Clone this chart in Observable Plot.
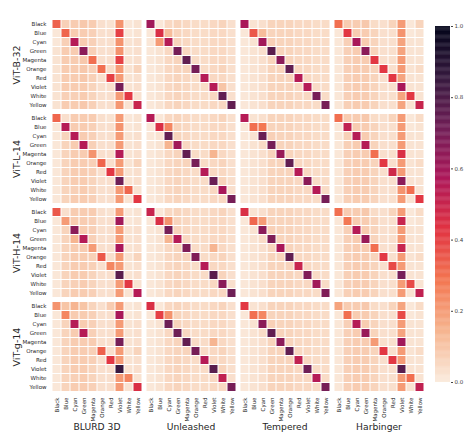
<!DOCTYPE html>
<html><head><meta charset="utf-8">
<script src="https://cdn.jsdelivr.net/npm/d3@7"></script>
<script src="https://cdn.jsdelivr.net/npm/@observablehq/plot@0.6"></script>
<style>
body{margin:0;background:#fff;font-family:"DejaVu Sans",sans-serif;}
#wrap{position:relative;width:465px;height:445px;overflow:hidden;}
#title{position:absolute;left:0;width:482px;top:3px;text-align:center;font-weight:bold;font-size:13.5px;color:#262626;white-space:pre;}
#main{position:absolute;left:0;top:0;}
#cbar{position:absolute;left:435px;top:0;}
</style></head><body>
<div id="wrap"><div id="title">Dataset: Laion 2B,  Class: Shirt color</div><div id="main"></div><div id="cbar"></div></div>
<script>
const colors = ["Black","Blue","Cyan","Green","Magenta","Orange","Red","Violet","White","Yellow"];
const models = ["ViT-B-32","ViT-L-14","ViT-H-14","ViT-g-14"];
const datasets = ["BLURD 3D","Unleashed","Tempered","Harbinger"];
const cbarTicks = [0,0.2,0.4,0.6,0.8,1.0];

const b32_blurd = [
[.33,.07,.08,.09,.08,.03,.02,.22,.01,.02],
[.01,.32,.08,.08,.07,.03,.03,.40,.01,.02],
[.01,.07,.55,.08,.07,.03,.03,.22,.02,.03],
[.02,.08,.08,.65,.07,.03,.03,.22,.02,.03],
[.02,.08,.08,.09,.30,.03,.03,.40,.02,.03],
[.02,.08,.08,.09,.07,.30,.04,.20,.02,.06],
[.02,.08,.08,.09,.07,.03,.40,.20,.02,.03],
[.02,.08,.08,.08,.06,.03,.03,.70,.02,.03],
[.02,.07,.07,.08,.06,.03,.03,.20,.42,.02],
[.02,.08,.08,.09,.07,.03,.03,.21,.02,.50]];
const b32_unleashed = [
[.60,.01,.05,.06,.05,.04,.04,.05,.06,.03],
[.01,.45,.12,.06,.05,.04,.04,.05,.05,.03],
[.01,.20,.55,.06,.05,.04,.04,.05,.05,.03],
[.01,.02,.05,.70,.05,.04,.04,.05,.05,.03],
[.01,.02,.05,.06,.75,.04,.04,.05,.05,.03],
[.01,.02,.05,.06,.06,.70,.04,.05,.06,.03],
[.01,.02,.05,.06,.05,.04,.55,.05,.05,.03],
[.01,.02,.05,.06,.05,.04,.04,.55,.10,.03],
[.01,.02,.05,.06,.05,.04,.04,.05,.75,.03],
[.01,.02,.05,.06,.05,.04,.04,.05,.05,.75]];
const b32_tempered = [
[.58,.02,.03,.06,.06,.06,.05,.05,.04,.04],
[.01,.35,.12,.06,.06,.06,.05,.05,.04,.04],
[.01,.02,.60,.07,.06,.06,.05,.05,.04,.04],
[.01,.02,.03,.77,.06,.06,.05,.05,.04,.04],
[.01,.02,.03,.06,.65,.06,.05,.05,.04,.04],
[.01,.02,.03,.06,.06,.75,.05,.05,.04,.04],
[.01,.02,.03,.06,.06,.06,.55,.05,.04,.04],
[.01,.02,.03,.06,.06,.06,.05,.55,.04,.04],
[.01,.02,.03,.06,.06,.06,.05,.05,.70,.04],
[.01,.02,.03,.06,.06,.06,.05,.05,.04,.70]];
const b32_harbinger = [
[.30,.08,.08,.09,.04,.03,.06,.20,.01,.06],
[.01,.42,.08,.08,.06,.03,.03,.22,.01,.02],
[.01,.07,.58,.08,.06,.03,.03,.18,.02,.02],
[.01,.07,.08,.65,.06,.03,.03,.18,.02,.02],
[.01,.07,.08,.08,.42,.03,.03,.20,.02,.02],
[.01,.07,.08,.08,.06,.42,.03,.20,.02,.04],
[.01,.07,.08,.08,.06,.03,.42,.18,.02,.02],
[.01,.07,.08,.08,.06,.03,.03,.58,.02,.02],
[.01,.07,.08,.08,.06,.03,.03,.18,.42,.02],
[.01,.07,.08,.08,.06,.03,.03,.18,.02,.50]];

const l14_blurd = [
[.32,.03,.08,.08,.08,.03,.02,.20,.01,.02],
[.01,.55,.08,.08,.07,.03,.03,.22,.01,.02],
[.01,.06,.55,.08,.07,.03,.03,.20,.02,.03],
[.01,.06,.08,.55,.07,.03,.03,.20,.02,.03],
[.01,.06,.08,.08,.22,.03,.03,.55,.02,.03],
[.01,.06,.08,.08,.07,.32,.03,.20,.02,.06],
[.01,.06,.08,.08,.07,.03,.42,.20,.02,.03],
[.01,.06,.08,.08,.06,.03,.03,.72,.02,.03],
[.01,.06,.07,.08,.06,.03,.03,.20,.32,.02],
[.01,.06,.08,.08,.07,.03,.03,.20,.02,.42]];
const l14_unleashed = [
[.55,.01,.05,.06,.05,.04,.04,.05,.06,.03],
[.01,.45,.25,.06,.05,.04,.04,.05,.05,.03],
[.01,.02,.75,.06,.05,.04,.04,.05,.05,.03],
[.01,.02,.14,.60,.05,.04,.04,.05,.05,.03],
[.01,.02,.05,.06,.75,.04,.04,.14,.05,.03],
[.01,.02,.05,.06,.06,.70,.04,.05,.06,.03],
[.01,.02,.05,.06,.05,.04,.55,.05,.05,.03],
[.01,.02,.05,.06,.05,.04,.04,.73,.06,.03],
[.01,.02,.05,.06,.05,.04,.04,.05,.58,.03],
[.01,.02,.05,.06,.05,.04,.04,.05,.05,.70]];
const l14_tempered = [
[.55,.02,.03,.06,.06,.06,.05,.05,.04,.04],
[.01,.30,.28,.06,.06,.06,.05,.05,.04,.04],
[.01,.02,.73,.07,.06,.06,.05,.05,.04,.04],
[.01,.02,.04,.70,.06,.06,.05,.05,.04,.04],
[.01,.02,.03,.06,.62,.06,.05,.05,.04,.04],
[.01,.02,.03,.06,.06,.75,.05,.05,.04,.04],
[.01,.02,.03,.06,.06,.06,.55,.05,.04,.04],
[.01,.02,.03,.06,.06,.06,.05,.65,.04,.04],
[.01,.02,.03,.06,.06,.06,.05,.05,.55,.04],
[.01,.02,.03,.06,.06,.06,.05,.05,.04,.70]];
const l14_harbinger = [
[.30,.08,.08,.09,.04,.03,.06,.20,.01,.04],
[.01,.52,.08,.08,.06,.03,.03,.20,.01,.02],
[.01,.07,.55,.08,.06,.03,.03,.20,.02,.02],
[.01,.07,.08,.55,.06,.03,.03,.20,.02,.02],
[.01,.07,.08,.08,.30,.03,.03,.45,.02,.02],
[.01,.07,.08,.08,.06,.42,.03,.20,.02,.04],
[.01,.07,.08,.08,.06,.03,.48,.20,.02,.02],
[.01,.07,.08,.08,.06,.03,.03,.65,.02,.02],
[.01,.07,.08,.08,.06,.03,.03,.22,.30,.02],
[.01,.07,.08,.08,.06,.03,.03,.20,.02,.42]];

const h14_blurd = [
[.35,.03,.08,.08,.08,.03,.02,.20,.01,.02],
[.01,.20,.08,.08,.07,.03,.03,.60,.01,.02],
[.01,.06,.65,.08,.07,.03,.03,.20,.02,.03],
[.01,.06,.14,.55,.07,.03,.03,.20,.02,.03],
[.01,.06,.08,.08,.20,.03,.03,.58,.02,.03],
[.01,.06,.08,.08,.07,.35,.03,.20,.02,.06],
[.01,.06,.08,.08,.07,.03,.25,.20,.02,.03],
[.01,.06,.08,.08,.06,.03,.03,.77,.02,.03],
[.01,.06,.07,.08,.06,.03,.03,.20,.42,.02],
[.01,.06,.08,.08,.07,.03,.03,.20,.02,.55]];
const h14_unleashed = [
[.50,.01,.05,.06,.05,.04,.04,.05,.06,.03],
[.01,.45,.22,.06,.05,.04,.04,.05,.05,.03],
[.01,.02,.70,.06,.05,.04,.04,.05,.05,.03],
[.01,.02,.14,.55,.05,.04,.04,.05,.05,.03],
[.01,.02,.05,.06,.68,.04,.04,.14,.05,.03],
[.01,.02,.05,.06,.06,.68,.04,.05,.06,.03],
[.01,.02,.05,.06,.05,.04,.55,.05,.05,.03],
[.01,.02,.05,.06,.05,.04,.04,.77,.06,.03],
[.01,.02,.05,.06,.05,.04,.04,.05,.65,.03],
[.01,.02,.05,.06,.05,.04,.04,.05,.05,.72]];
const h14_tempered = [
[.45,.02,.03,.06,.06,.06,.05,.05,.04,.04],
[.01,.32,.20,.06,.06,.06,.05,.05,.04,.04],
[.01,.02,.65,.07,.06,.06,.05,.05,.04,.04],
[.01,.02,.04,.68,.06,.06,.05,.05,.04,.04],
[.01,.02,.03,.06,.58,.06,.05,.05,.04,.04],
[.01,.02,.03,.06,.06,.75,.05,.05,.04,.04],
[.01,.02,.03,.06,.06,.06,.50,.05,.04,.04],
[.01,.02,.03,.06,.06,.06,.05,.68,.04,.04],
[.01,.02,.03,.06,.06,.06,.05,.05,.60,.04],
[.01,.02,.03,.06,.06,.06,.05,.05,.04,.68]];
const h14_harbinger = [
[.30,.08,.08,.09,.04,.03,.06,.20,.01,.04],
[.01,.28,.08,.08,.06,.03,.03,.50,.01,.02],
[.01,.07,.55,.08,.06,.03,.03,.20,.02,.02],
[.01,.07,.08,.62,.06,.03,.03,.20,.02,.02],
[.01,.07,.08,.08,.30,.03,.03,.50,.02,.02],
[.01,.07,.08,.08,.06,.42,.03,.20,.02,.04],
[.01,.07,.08,.08,.06,.03,.38,.20,.02,.02],
[.01,.07,.08,.08,.06,.03,.03,.70,.02,.02],
[.01,.07,.08,.08,.06,.03,.03,.20,.38,.02],
[.01,.07,.08,.08,.06,.03,.03,.20,.02,.52]];

const g14_blurd = [
[.22,.10,.14,.10,.06,.03,.08,.20,.01,.02],
[.01,.25,.08,.08,.07,.03,.03,.58,.01,.02],
[.01,.06,.55,.08,.07,.03,.03,.20,.02,.03],
[.01,.06,.08,.55,.07,.03,.03,.20,.02,.03],
[.01,.06,.08,.08,.08,.03,.03,.70,.02,.03],
[.01,.06,.08,.08,.07,.33,.03,.20,.02,.06],
[.01,.06,.08,.08,.07,.03,.42,.20,.02,.03],
[.01,.06,.08,.08,.06,.03,.03,.85,.02,.03],
[.01,.06,.07,.08,.06,.03,.03,.20,.25,.02],
[.01,.06,.08,.08,.07,.03,.03,.20,.02,.45]];
const g14_unleashed = [
[.45,.01,.05,.06,.05,.04,.04,.05,.06,.03],
[.01,.40,.22,.06,.05,.04,.04,.05,.05,.03],
[.01,.02,.72,.06,.05,.04,.04,.05,.05,.03],
[.01,.02,.05,.72,.05,.04,.04,.05,.05,.03],
[.01,.02,.05,.06,.75,.04,.04,.14,.05,.03],
[.01,.02,.05,.06,.06,.70,.04,.05,.06,.03],
[.01,.02,.05,.06,.05,.04,.55,.05,.05,.03],
[.01,.02,.05,.06,.05,.04,.04,.77,.06,.03],
[.01,.02,.05,.06,.05,.04,.04,.05,.52,.03],
[.01,.02,.05,.06,.05,.04,.04,.05,.05,.70]];
const g14_tempered = [
[.42,.02,.03,.06,.06,.06,.05,.05,.04,.04],
[.01,.30,.25,.06,.06,.06,.05,.05,.04,.04],
[.01,.02,.65,.07,.06,.06,.05,.05,.04,.04],
[.01,.02,.04,.75,.06,.06,.05,.05,.04,.04],
[.01,.02,.03,.06,.65,.06,.05,.05,.04,.04],
[.01,.02,.03,.06,.06,.75,.05,.05,.04,.04],
[.01,.02,.03,.06,.06,.06,.52,.05,.04,.04],
[.01,.02,.03,.06,.06,.06,.05,.72,.04,.04],
[.01,.02,.03,.06,.06,.06,.05,.05,.55,.04],
[.01,.02,.03,.06,.06,.06,.05,.05,.04,.70]];
const g14_harbinger = [
[.18,.08,.08,.09,.04,.03,.06,.18,.01,.04],
[.01,.30,.08,.08,.06,.03,.03,.38,.01,.02],
[.01,.07,.55,.08,.06,.03,.03,.20,.02,.02],
[.01,.07,.08,.62,.06,.03,.03,.18,.02,.02],
[.01,.07,.08,.08,.20,.03,.03,.60,.02,.02],
[.01,.07,.08,.08,.06,.42,.03,.20,.02,.04],
[.01,.07,.08,.08,.06,.03,.42,.20,.02,.02],
[.01,.07,.08,.08,.06,.03,.03,.77,.02,.02],
[.01,.07,.08,.08,.06,.03,.03,.20,.30,.02],
[.01,.07,.08,.08,.06,.03,.03,.20,.02,.52]];

const matrices = [
  [b32_blurd, b32_unleashed, b32_tempered, b32_harbinger],
  [l14_blurd, l14_unleashed, l14_tempered, l14_harbinger],
  [h14_blurd, h14_unleashed, h14_tempered, h14_harbinger],
  [g14_blurd, g14_unleashed, g14_tempered, g14_harbinger]
];

const data = [];
models.forEach((m, mi) => datasets.forEach((d, di) => {
  matrices[mi][di].forEach((row, r) => row.forEach((v, c) => {
    data.push({model: m, dataset: d, truth: colors[r], pred: colors[c], value: v});
  }));
}));

// seaborn "rocket_r"
const rocketR = d3.piecewise(d3.interpolateRgb, ["#faebdd","#f6b48f","#f37651","#e13342","#ad1759","#701f57","#35193e","#03051a"]);
const colorScale = {type: "linear", domain: [0, 1], interpolate: rocketR};

const main = Plot.plot({
  width: 430, height: 445,
  marginLeft: 50, marginRight: 6, marginTop: 18.5, marginBottom: 53.5,
  style: {fontFamily: "DejaVu Sans, sans-serif", color: "#262626", background: "white"},
  x: {domain: colors, padding: 0},
  y: {domain: colors, padding: 0},
  fx: {domain: datasets, paddingInner: 0.035, paddingOuter: 0},
  fy: {domain: models, paddingInner: 0.032, paddingOuter: 0},
  color: colorScale,
  marks: [
    Plot.cell(data, {fx: "dataset", fy: "model", x: "pred", y: "truth", fill: "value", inset: 0.5}),
    Plot.axisX({anchor: "bottom", tickRotate: -90, tickSize: 0, tickPadding: 5, fontSize: 5.5, label: null}),
    Plot.axisY({anchor: "left", tickSize: 0, tickPadding: 5, fontSize: 5.5, label: null}),
    Plot.axisFx({anchor: "bottom", tickSize: 0, tickPadding: 31, fontSize: 9.2, label: null}),
    Plot.axisFy({anchor: "left", tickSize: 0, tickPadding: 32, tickRotate: -90, fontSize: 9.5, label: null})
  ]
});
document.getElementById("main").appendChild(main);

const steps = d3.range(0, 1, 0.0025);
const cbar = Plot.plot({
  width: 30, height: 445,
  marginLeft: 0, marginRight: 15, marginTop: 26, marginBottom: 63,
  style: {fontFamily: "DejaVu Sans, sans-serif", color: "#444", background: "white"},
  x: {domain: [0, 1], axis: null},
  y: {domain: [0, 1]},
  color: colorScale,
  marks: [
    Plot.rect(steps, {x1: 0, x2: 1, y1: d => d, y2: d => Math.min(1, d + 0.0035), fill: d => d}),
    Plot.axisY({anchor: "right", ticks: cbarTicks, tickFormat: d3.format(".1f"), tickSize: 2, tickPadding: 2, fontSize: 5.5, label: null})
  ]
});
document.getElementById("cbar").appendChild(cbar);
</script>
</body></html>
